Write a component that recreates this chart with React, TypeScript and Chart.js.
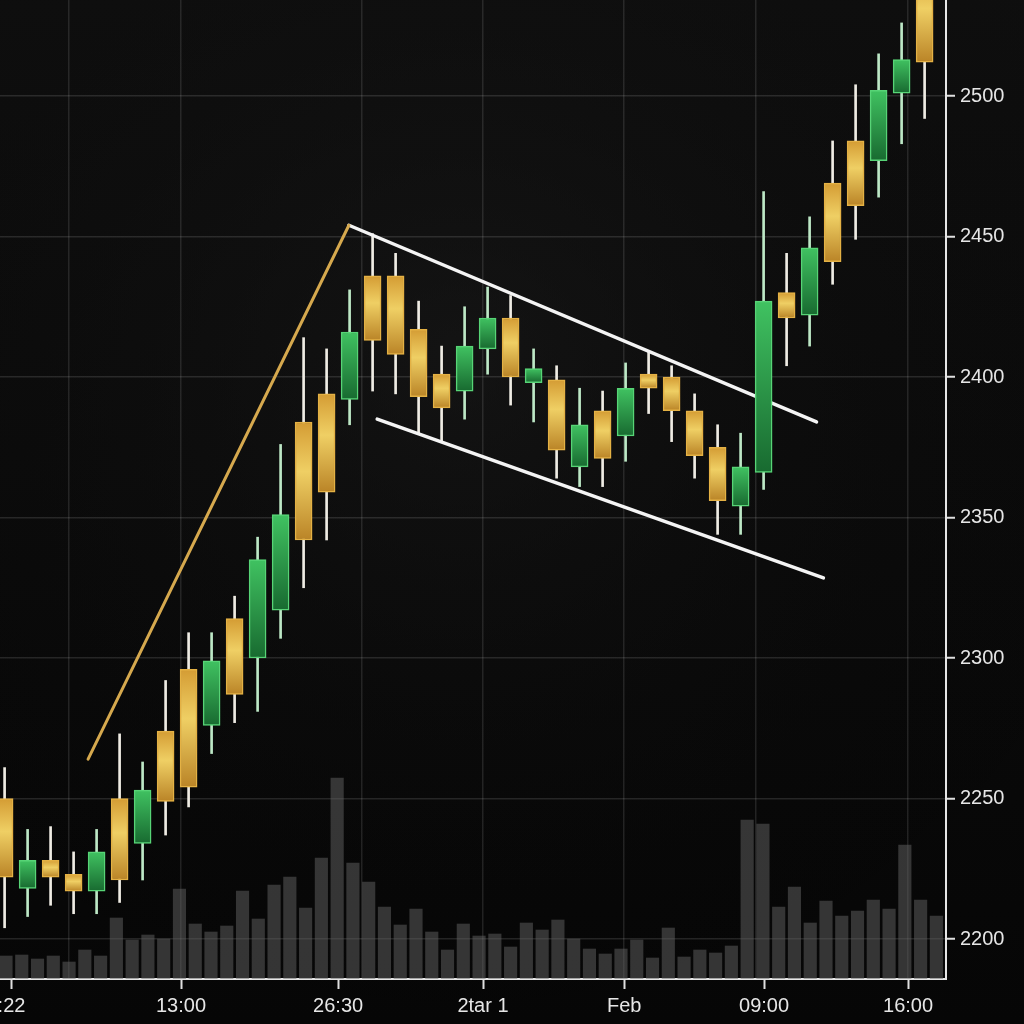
import React, { useEffect, useRef } from 'react';
import { Chart, registerables } from 'chart.js';

Chart.register(...registerables);

// ---- data ----
const opens = [2250, 2218, 2228, 2223, 2217, 2250, 2234, 2274, 2296, 2276, 2314, 2300, 2317, 2384, 2394, 2392, 2436, 2436, 2417, 2401, 2395, 2410, 2421, 2398, 2399, 2368, 2388, 2379, 2401, 2400, 2388, 2375, 2354, 2366, 2430, 2422, 2469, 2484, 2477, 2501, 2545];
const highs = [2261, 2239, 2240, 2231, 2239, 2273, 2263, 2292, 2309, 2309, 2322, 2343, 2376, 2414, 2410, 2431, 2451, 2444, 2427, 2411, 2425, 2432, 2429, 2410, 2404, 2396, 2395, 2405, 2409, 2404, 2394, 2383, 2380, 2466, 2444, 2457, 2484, 2504, 2515, 2526, 2556];
const lows = [2204, 2208, 2212, 2209, 2209, 2213, 2221, 2237, 2247, 2266, 2277, 2281, 2307, 2325, 2342, 2383, 2395, 2394, 2380, 2377, 2385, 2401, 2390, 2384, 2364, 2361, 2361, 2370, 2387, 2377, 2364, 2344, 2344, 2360, 2404, 2411, 2433, 2449, 2464, 2483, 2492];
const closes = [2222, 2228, 2222, 2217, 2231, 2221, 2253, 2249, 2254, 2299, 2287, 2335, 2351, 2342, 2359, 2416, 2413, 2408, 2393, 2389, 2411, 2421, 2400, 2403, 2374, 2383, 2371, 2396, 2396, 2388, 2372, 2356, 2368, 2427, 2421, 2446, 2441, 2461, 2502, 2513, 2512];

const volumes = [23, 24, 20, 23, 17, 29, 23, 61, 39, 44, 40, 90, 55, 47, 53, 88, 60, 94, 102, 71, 121, 201, 116, 97, 72, 54, 70, 47, 29, 55, 43, 45, 32, 56, 49, 59, 40, 30, 25, 30, 39, 21, 51, 22, 29, 26, 33, 159, 155, 72, 92, 56, 78, 63, 68, 79, 70, 134, 79, 63];

const tickLabels = [':22', '13:00', '26:30', '2tar 1', 'Feb', '09:00', '16:00'];
const tickTimes = [0.3, 7.67, 14.5, 20.8, 26.94, 33.02, 39.28];
const gridTimes = [2.8, 7.67, 15.54, 20.8, 26.94, 32.67, 39.28];
const priceTicks = [2200, 2250, 2300, 2350, 2400, 2450, 2500];

const goldTrend = [{ x: 3.63, y: 2264 }, { x: 14.97, y: 2454 }];
const upperTrend = [{ x: 14.97, y: 2454 }, { x: 35.3, y: 2384 }];
const lowerTrend = [{ x: 16.2, y: 2385 }, { x: 35.6, y: 2328.5 }];

// ---- layout constants ----
const X_MIN = -0.2;
const X_MAX = 40.93;
const XV_MIN = -0.38;
const XV_MAX = 59.61;
const Y_MIN = 2185.77;
const Y_MAX = 2534.16;
const VOL_MAX = 979;

const FONT = '"Liberation Sans", Arial, Helvetica, sans-serif';

const bgPlugin = {
  id: 'bgPlugin',
  beforeDraw(chart: any) {
    const { ctx, width, height } = chart;
    ctx.save();
    const lg = ctx.createLinearGradient(0, 0, 0, height);
    lg.addColorStop(0, '#0f0f0f');
    lg.addColorStop(1, '#060606');
    ctx.fillStyle = lg;
    ctx.fillRect(0, 0, width, height);
    const rg = ctx.createRadialGradient(width * 0.45, height * 0.35, 20, width * 0.45, height * 0.35, width * 0.75);
    rg.addColorStop(0, 'rgba(26,26,26,0.5)');
    rg.addColorStop(1, 'rgba(0,0,0,0)');
    ctx.fillStyle = rg;
    ctx.fillRect(0, 0, width, height);
    ctx.restore();
  },
};

export default function App() {
  const ref = useRef<HTMLCanvasElement>(null);

  useEffect(() => {
    const canvas = ref.current;
    if (!canvas) return;
    const bull = (i: number) => closes[i] >= opens[i];

    const bodyData = opens.map((o, i) => ({ x: i, y: [Math.min(o, closes[i]), Math.max(o, closes[i])] }));
    const wickData = highs.map((h, i) => ({ x: i, y: [lows[i], h] }));
    const volData = volumes.map((v, k) => ({ x: k, y: v }));

    const bodyFill = (c: any) => {
      if (c.type !== 'data') return '#e0b445';
      const i = c.dataIndex;
      const isBull = bull(i);
      const chart = c.chart;
      const ys = chart.scales && chart.scales.y;
      if (!ys || !chart.chartArea) return isBull ? '#2e9e4a' : '#e0b445';
      const top = ys.getPixelForValue(Math.max(opens[i], closes[i]));
      const bot = ys.getPixelForValue(Math.min(opens[i], closes[i]));
      const g = chart.ctx.createLinearGradient(0, top, 0, Math.max(bot, top + 1));
      if (isBull) {
        g.addColorStop(0, '#40c261');
        g.addColorStop(1, '#186a30');
      } else {
        g.addColorStop(0, '#d49c34');
        g.addColorStop(0.42, '#efcf64');
        g.addColorStop(1, '#ba8427');
      }
      return g;
    };

    const chart = new Chart(canvas, {
      type: 'bar',
      data: {
        datasets: [
          {
            type: 'bar',
            label: 'Body',
            data: bodyData as any,
            xAxisID: 'x',
            yAxisID: 'y',
            grouped: false,
            barThickness: 17,
            backgroundColor: bodyFill as any,
            borderColor: (c: any) => (c.type === 'data' && bull(c.dataIndex) ? '#57d476' : '#e4b144'),
            borderWidth: 1.5,
            borderSkipped: false,
            order: 0,
          } as any,
          {
            type: 'line',
            label: 'Rise',
            data: goldTrend as any,
            xAxisID: 'x',
            yAxisID: 'y',
            borderColor: '#d6a94e',
            borderWidth: 3,
            borderCapStyle: 'round',
            pointRadius: 0,
            tension: 0,
            order: 1,
          } as any,
          {
            type: 'line',
            label: 'Upper',
            data: upperTrend as any,
            xAxisID: 'x',
            yAxisID: 'y',
            borderColor: '#f4f4f4',
            borderWidth: 3.5,
            borderCapStyle: 'round',
            pointRadius: 0,
            tension: 0,
            order: 1,
          } as any,
          {
            type: 'line',
            label: 'Lower',
            data: lowerTrend as any,
            xAxisID: 'x',
            yAxisID: 'y',
            borderColor: '#f4f4f4',
            borderWidth: 3.5,
            borderCapStyle: 'round',
            pointRadius: 0,
            tension: 0,
            order: 1,
          } as any,
          {
            type: 'bar',
            label: 'Wick',
            data: wickData as any,
            xAxisID: 'x',
            yAxisID: 'y',
            grouped: false,
            barThickness: 2,
            backgroundColor: (c: any) => (c.type === 'data' && bull(c.dataIndex) ? '#bde8c6' : '#efece4'),
            borderWidth: 0,
            order: 2,
          } as any,
          {
            type: 'bar',
            label: 'Volume',
            data: volData as any,
            xAxisID: 'xv',
            yAxisID: 'yv',
            grouped: false,
            barThickness: 12.5,
            backgroundColor: 'rgba(100,100,100,0.5)',
            borderWidth: 0,
            order: 3,
          } as any,
        ],
      },
      options: {
        animation: false,
        responsive: false,
        devicePixelRatio: 1,
        layout: { padding: 0 },
        plugins: {
          legend: { display: false },
          tooltip: { enabled: false },
        },
        scales: {
          x: {
            type: 'linear',
            position: 'bottom',
            min: X_MIN,
            max: X_MAX,
            offset: false,
            afterBuildTicks: (axis: any) => {
              axis.ticks = tickTimes.map((v) => ({ value: v }));
            },
            afterFit: (axis: any) => {
              axis.height = 45;
              axis.paddingLeft = 0;
              axis.paddingRight = 0;
            },
            ticks: {
              autoSkip: false,
              maxRotation: 0,
              minRotation: 0,
              padding: 5,
              color: '#e6e6e6',
              font: { family: FONT, size: 20 },
              callback: (v: any) => {
                const k = tickTimes.indexOf(Number(v));
                return k >= 0 ? tickLabels[k] : '';
              },
            },
            grid: {
              display: true,
              drawOnChartArea: false,
              drawTicks: true,
              tickLength: 10,
              tickColor: '#e0e0e0',
              tickWidth: 2,
              offset: false,
            },
            border: { display: true, color: '#e6e6e6', width: 2 },
          } as any,
          xg: {
            type: 'linear',
            position: 'top',
            min: X_MIN,
            max: X_MAX,
            offset: false,
            afterBuildTicks: (axis: any) => {
              axis.ticks = gridTimes.map((v) => ({ value: v }));
            },
            afterFit: (axis: any) => {
              axis.height = 0;
              axis.paddingLeft = 0;
              axis.paddingRight = 0;
            },
            ticks: { display: false },
            grid: { color: 'rgba(255,255,255,0.11)', lineWidth: 1.5, drawTicks: false, offset: false },
            border: { display: false },
          } as any,
          xv: {
            type: 'linear',
            display: false,
            min: XV_MIN,
            max: XV_MAX,
            offset: false,
          } as any,
          yv: {
            type: 'linear',
            display: false,
            min: 0,
            max: VOL_MAX,
          } as any,
          y: {
            type: 'linear',
            position: 'right',
            min: Y_MIN,
            max: Y_MAX,
            afterBuildTicks: (axis: any) => {
              axis.ticks = priceTicks.map((v) => ({ value: v }));
            },
            afterFit: (axis: any) => {
              axis.width = 78;
              axis.paddingTop = 0;
              axis.paddingBottom = 0;
            },
            ticks: {
              color: '#e6e6e6',
              padding: 5,
              font: { family: FONT, size: 20 },
              callback: (v: any) => String(v),
            },
            grid: {
              color: 'rgba(255,255,255,0.12)',
              lineWidth: 1.5,
              tickColor: '#e0e0e0',
              tickLength: 9,
              tickWidth: 2,
            },
            border: { display: true, color: '#e6e6e6', width: 2 },
          } as any,
        },
      },
      plugins: [bgPlugin],
    });

    return () => chart.destroy();
  }, []);

  return (
    <div style={{ position: 'fixed', left: 0, top: 0, width: 1024, height: 1024, background: '#0b0b0b' }}>
      <canvas ref={ref} width={1024} height={1024} style={{ display: 'block', width: 1024, height: 1024 }} />
    </div>
  );
}
